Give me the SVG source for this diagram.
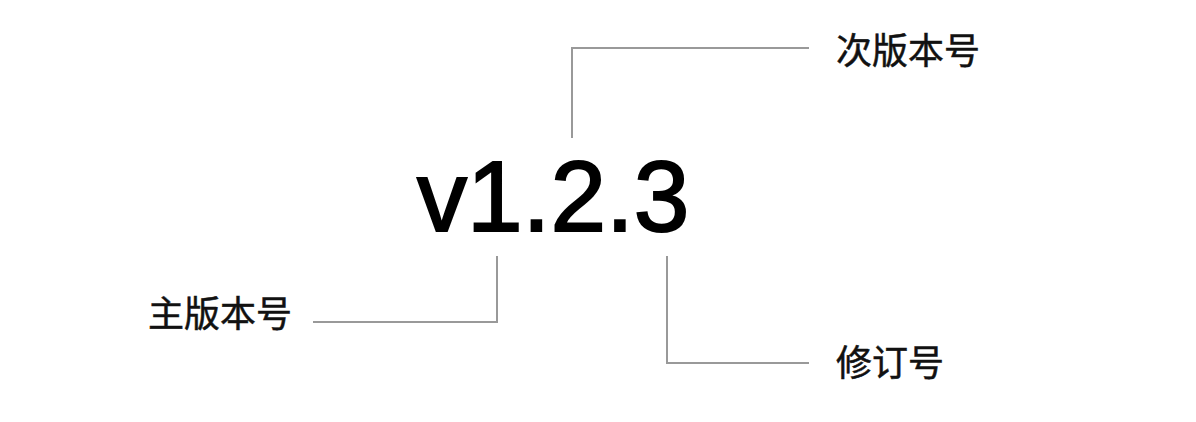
<svg xmlns="http://www.w3.org/2000/svg" width="1196" height="422" viewBox="0 0 1196 422">
<style>
.conn{fill:none;stroke:#999;stroke-width:2}
.lbl{font-family:"Noto Sans CJK SC","Noto Sans",sans-serif;font-size:36px;fill:#111;stroke:#111;stroke-width:0.5}
.ver{font-family:"Liberation Sans",Arial,sans-serif;font-size:100px;fill:#000;stroke:#000;stroke-width:2}
</style>
<rect width="1196" height="422" fill="#fff"/>
<g id="connectors">
<polyline class="conn" points="572,138 572,48 809,48"/>
<polyline class="conn" points="313,322 497,322 497,256"/>
<polyline class="conn" points="667,256 667,363 809,363"/>
</g>
<g id="version"><text class="ver" x="417" y="231">v1.2.3</text></g>
<g id="minor"><text class="lbl" x="836" y="64">次版本号</text></g>
<g id="major"><text class="lbl" x="148" y="327">主版本号</text></g>
<g id="patch"><text class="lbl" x="836" y="376">修订号</text></g>
</svg>
